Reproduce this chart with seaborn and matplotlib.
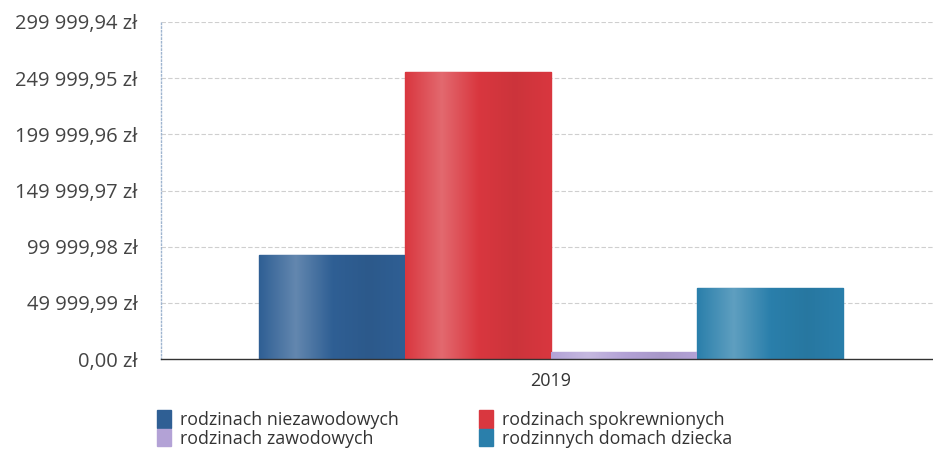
import numpy as np
import pandas as pd
import matplotlib
matplotlib.use("Agg")
import matplotlib.pyplot as plt
import seaborn as sns
from matplotlib.colors import LinearSegmentedColormap, to_rgb

years = ["2019"]
categories = ["rodzinach niezawodowych", "rodzinach spokrewnionych",
              "rodzinach zawodowych", "rodzinnych domach dziecka"]
values = [92500, 255400, 6000, 63100]
colors = ["#2f5f94", "#d9373f", "#b3a2d6", "#2a7fab"]
tick_values = [0, 49999.99, 99999.98, 149999.97, 199999.96, 249999.95, 299999.94]

df = pd.DataFrame({"rok": years * len(categories), "kategoria": categories, "kwota": values})

sns.set_theme(style="white")
plt.rcParams["font.family"] = ["Open Sans", "DejaVu Sans"]

fig = plt.figure(figsize=(9.33, 4.57), dpi=100)
ax = fig.add_axes([0.1726, 0.2144, 0.8274, 0.7375])

sns.barplot(data=df, x="rok", y="kwota", hue="kategoria", palette=colors,
            width=0.757, gap=0, ax=ax, legend=False, saturation=1)

# glossy gradient fill clipped to each bar
for patch, col in zip(ax.patches, colors):
    x0, y0 = patch.get_x(), patch.get_y()
    w, h = patch.get_width(), patch.get_height()
    base = np.array(to_rgb(col))
    light = base + (1 - base) * 0.25
    dark = base * 0.94
    cmap = LinearSegmentedColormap.from_list("g", [base, light, base, dark, base])
    grad = np.linspace(0, 1, 256).reshape(1, -1)
    im = ax.imshow(grad, extent=[x0, x0 + w, y0, y0 + h], aspect="auto",
                   cmap=cmap, zorder=patch.get_zorder() + 0.1)
    im.set_clip_path(patch)
    patch.set_edgecolor(col)

ax.set_xlim(-0.505, 0.495)
ax.set_ylim(0, tick_values[-1])
ax.set_yticks(tick_values)

def fmt(v):
    s = f"{v:,.2f}"
    intpart, dec = s.split(".")
    return intpart.replace(",", " ") + "," + dec + " zł"

ax.set_yticklabels([fmt(v) for v in tick_values], fontsize=14.5, color="#444444")
ax.tick_params(axis="x", labelsize=13, colors="#333333", pad=9, length=0)
ax.tick_params(axis="y", pad=17, length=0)
ax.set_xlabel("")
ax.set_ylabel("")

for v in tick_values[1:]:
    ax.axhline(v, color="#cfcfcf", lw=0.8, ls=(0, (4, 2)), zorder=0)

for s in ["top", "right"]:
    ax.spines[s].set_visible(False)
ax.spines["left"].set_color("#9fb5d0")
ax.spines["left"].set_linestyle(":")
ax.spines["left"].set_linewidth(1.0)
ax.spines["bottom"].set_color("#333333")
ax.spines["bottom"].set_linestyle((0, (3, 1)))
ax.spines["bottom"].set_linewidth(1.0)

from matplotlib.patches import Patch
handles = [Patch(facecolor=c, edgecolor=c) for c in colors]
order = [0, 2, 1, 3]
fig.legend([handles[i] for i in order], [categories[i] for i in order],
           loc="upper left", bbox_to_anchor=(0.1685, 0.103), ncol=2,
           frameon=False, fontsize=12.8, handlelength=0.75, handleheight=1.15,
           handletextpad=0.55, columnspacing=4.5, labelspacing=0.0,
           borderaxespad=0, borderpad=0, labelcolor="#333333")

fig.savefig("out.png", dpi=100, facecolor="white")
